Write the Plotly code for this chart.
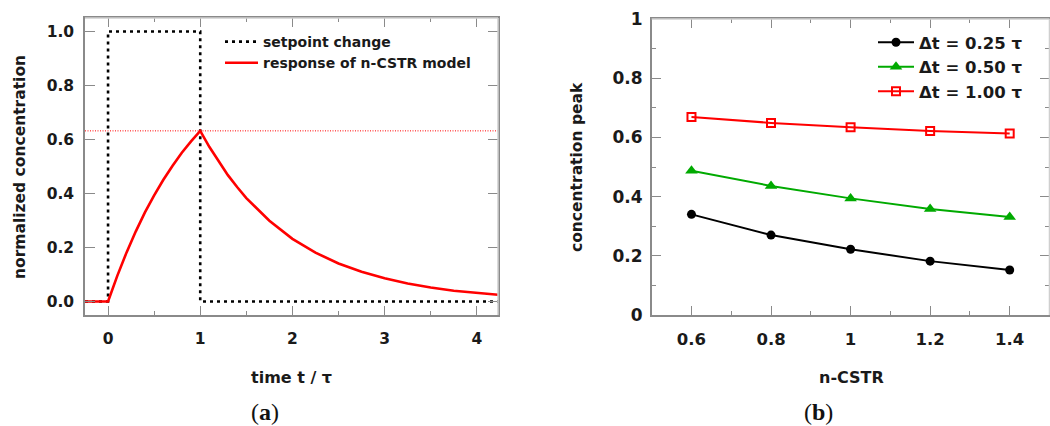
import plotly.graph_objects as go

# ---- panel (a): step setpoint and n-CSTR response ----
setpoint_t = [-0.25, 0, 0, 1, 1, 4.23]
setpoint_c = [0, 0, 1, 1, 0, 0]

response_t = [-0.25, 0, 0.1, 0.2, 0.3, 0.4, 0.5, 0.6, 0.7, 0.8, 0.9, 1.0,
              1.1, 1.2, 1.3, 1.4, 1.5, 1.75, 2.0, 2.25, 2.5, 2.75, 3.0,
              3.25, 3.5, 3.75, 4.0, 4.23]
response_c = [0, 0, 0.095, 0.181, 0.259, 0.330, 0.393, 0.451, 0.503, 0.551,
              0.593, 0.632, 0.572, 0.518, 0.468, 0.424, 0.383, 0.299, 0.232,
              0.181, 0.141, 0.110, 0.086, 0.067, 0.052, 0.040, 0.031, 0.025]

peak_level = 0.632
time_range = [-0.25, 4.23]

# ---- panel (b): concentration peak vs n-CSTR ----
n_cstr = [0.6, 0.8, 1.0, 1.2, 1.4]
peak_025 = [0.340, 0.270, 0.222, 0.182, 0.152]
peak_050 = [0.487, 0.436, 0.394, 0.358, 0.331]
peak_100 = [0.669, 0.649, 0.634, 0.622, 0.613]

W, H = 1050, 426
SANS = "DejaVu Sans"
TXT = "#1a1a1a"
AX_DARK = "#8a8a8a"
AX_LIGHT = "#cfcfcf"


def px_x(p):
    return p / W


def px_y(p):
    return 1 - p / H


fig = go.Figure()

fig.add_trace(go.Scatter(
    x=time_range, y=[peak_level, peak_level], mode="lines",
    line=dict(color="#ff0000", width=1, dash="1px,1.5px"),
    showlegend=False, hoverinfo="skip", xaxis="x", yaxis="y"))

fig.add_trace(go.Scatter(
    x=setpoint_t, y=setpoint_c, mode="lines", name="setpoint change",
    line=dict(color="#000000", width=2.6, dash="3px,4px"),
    legend="legend", xaxis="x", yaxis="y"))

fig.add_trace(go.Scatter(
    x=response_t, y=response_c, mode="lines", name="response of n-CSTR model",
    line=dict(color="#ff0000", width=2.6),
    legend="legend", xaxis="x", yaxis="y"))

fig.add_trace(go.Scatter(
    x=n_cstr, y=peak_025, mode="lines+markers", name="\u0394t = 0.25 \u03c4",
    line=dict(color="#000000", width=2),
    marker=dict(symbol="circle", size=9, color="#000000"),
    legend="legend2", xaxis="x2", yaxis="y2"))

fig.add_trace(go.Scatter(
    x=n_cstr, y=peak_050, mode="lines+markers", name="\u0394t = 0.50 \u03c4",
    line=dict(color="#00aa00", width=2),
    marker=dict(symbol="triangle-up", size=11, color="#00aa00"),
    legend="legend2", xaxis="x2", yaxis="y2"))

fig.add_trace(go.Scatter(
    x=n_cstr, y=peak_100, mode="lines+markers", name="\u0394t = 1.00 \u03c4",
    line=dict(color="#ff0000", width=2),
    marker=dict(symbol="square-open", size=8, color="#ff0000",
                line=dict(width=2, color="#ff0000")),
    legend="legend2", xaxis="x2", yaxis="y2"))

axis_common = dict(
    showline=True, linecolor=AX_DARK, linewidth=1.5, mirror="ticks",
    ticks="inside", tickcolor=AX_DARK, showgrid=False, zeroline=False,
)

fig.update_layout(
    width=W, height=H,
    margin=dict(l=0, r=0, t=0, b=0, autoexpand=False),
    paper_bgcolor="white", plot_bgcolor="white",
    font=dict(family=SANS, color=TXT, size=16, weight="bold"),
    xaxis=dict(
        domain=[px_x(85), px_x(498)], range=time_range, anchor="y",
        tickvals=[0, 1, 2, 3, 4], ticklen=9,
        minor=dict(dtick=0.5, tick0=0, ticks="inside", ticklen=4, tickcolor=AX_DARK),
        tickfont=dict(size=15.5, weight="bold"), ticklabelstandoff=9,
        **axis_common),
    yaxis=dict(
        domain=[px_y(315), px_y(18)], range=[-0.05, 1.05], anchor="x",
        tickvals=[0, 0.2, 0.4, 0.6, 0.8, 1.0], tickformat=".1f", ticklen=10,
        tickfont=dict(size=15.5, weight="bold"), ticklabelstandoff=6,
        **axis_common),
    xaxis2=dict(
        domain=[px_x(651.7), 0.9995], range=[0.5, 1.5], anchor="y2",
        tickvals=[0.6, 0.8, 1.0, 1.2, 1.4], ticktext=["0.6", "0.8", "1", "1.2", "1.4"],
        ticklen=9,
        minor=dict(dtick=0.1, tick0=0.5, ticks="inside", ticklen=4, tickcolor=AX_DARK),
        tickfont=dict(size=16.5, weight="bold"), ticklabelstandoff=8,
        **axis_common),
    yaxis2=dict(
        domain=[px_y(315), px_y(19)], range=[0, 1], anchor="x2",
        tickvals=[0, 0.2, 0.4, 0.6, 0.8, 1.0], ticktext=["0", "0.2", "0.4", "0.6", "0.8", "1"],
        ticklen=10,
        minor=dict(dtick=0.1, tick0=0, ticks="inside", ticklen=5, tickcolor=AX_DARK),
        tickfont=dict(size=17, weight="bold"), ticklabelstandoff=4,
        **axis_common),
    legend=dict(
        x=px_x(220), y=px_y(26), xanchor="left", yanchor="top",
        bgcolor="rgba(0,0,0,0)", font=dict(size=14, weight="bold"),
        itemwidth=33, tracegroupgap=0),
    legend2=dict(
        x=px_x(873), y=px_y(25), xanchor="left", yanchor="top",
        bgcolor="rgba(0,0,0,0)", font=dict(size=16.5, weight="bold"),
        itemwidth=36, tracegroupgap=0),
)

# lighter top/right frame edges
for xr, yr in (("x domain", "y domain"), ("x2 domain", "y2 domain")):
    fig.add_shape(type="line", xref=xr, yref=yr, x0=0, x1=1, y0=1, y1=1,
                  line=dict(color=AX_LIGHT, width=1.5), layer="above")
    fig.add_shape(type="line", xref=xr, yref=yr, x0=1, x1=1, y0=0, y1=1,
                  line=dict(color=AX_LIGHT, width=1.5), layer="above")

annotations = [
    dict(text="normalized concentration", x=px_x(20), y=px_y(167), textangle=-90,
         font=dict(size=15.5, weight="bold")),
    dict(text="time t / \u03c4", x=px_x(291), y=px_y(377), font=dict(size=16, weight="bold")),
    dict(text="concentration peak", x=px_x(577), y=px_y(167), textangle=-90,
         font=dict(size=15.5, weight="bold")),
    dict(text="n-CSTR", x=px_x(851), y=px_y(377), font=dict(size=16, weight="bold")),
    dict(text="(<b>a</b>)", x=px_x(265), y=px_y(412),
         font=dict(family="Liberation Serif", size=24, weight=400, color="#111")),
    dict(text="(<b>b</b>)", x=px_x(818), y=px_y(412),
         font=dict(family="Liberation Serif", size=24, weight=400, color="#111")),
]
for a in annotations:
    a.update(xref="paper", yref="paper", showarrow=False, xanchor="center", yanchor="middle")
    fig.add_annotation(**a)

fig.write_html("out.html")
